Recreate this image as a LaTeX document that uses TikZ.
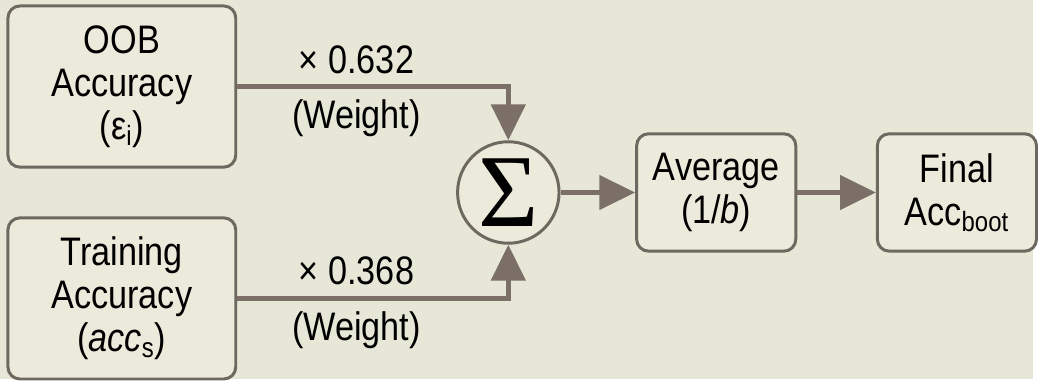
\documentclass[tikz,border=0pt]{standalone}
\usepackage{fontspec}
\setmainfont{Liberation Sans}[FakeStretch=0.86]
\newfontfamily\sigmafont{Liberation Serif}
\usetikzlibrary{arrows.meta, positioning, calc}
\usepackage{xcolor}
\definecolor{paper}{HTML}{E7E7D7}
\definecolor{boxfill}{HTML}{EBEADB}
\definecolor{edgegray}{HTML}{6E6960}
\definecolor{arrowgray}{HTML}{7B6F67}

\begin{document}
\begin{tikzpicture}[
        node distance=24pt and 110pt,
        font=\fontsize{20pt}{21.5pt}\selectfont,
        inbox/.style={rectangle, rounded corners=6pt, draw=edgegray, fill=boxfill, line width=1.5pt,
                   minimum height=81pt, minimum width=114.5pt, align=center},
        outbox/.style={inbox, minimum height=59pt, minimum width=80pt},
        sumnode/.style={circle, draw=edgegray, fill=boxfill, line width=1.5pt,
                   minimum size=51pt, inner sep=0pt},
        arrow/.style={-{Triangle[length=18pt, width=17pt]}, line width=2.5pt, draw=arrowgray}
    ]
    
    \fill[paper] (0,0) rectangle (519pt,-190.5pt);
    
    \node[inbox] (oob) at (61.25pt,-43.5pt) {OOB\\Accuracy\\(ε\textsubscript{i})};
    \node[inbox, below=of oob] (train) {Training\\Accuracy\\(\textit{acc}\textsubscript{s})};
    \coordinate (mid) at ($(oob.east)!0.5!(train.east)$);
    \node[sumnode, right=of mid] (sum) {\sigmafont\fontsize{52pt}{52pt}\selectfont Σ};
    \node[outbox, right=37.5pt of sum] (avg) {Average\\(1/\textit{b})};
    \node[outbox, right=39.5pt of avg] (final) {Final\\Acc\textsubscript{boot}};
    
    \draw[arrow] (oob.east) -| node[pos=0.22, above=2pt] {× 0.632}
        node[pos=0.22, below=2pt] {(Weight)} (sum.north);
    \draw[arrow] (train.east) -| node[pos=0.22, above=2pt] {× 0.368}
        node[pos=0.22, below=2pt] {(Weight)} (sum.south);
    \draw[arrow] (sum) -- (avg);
    \draw[arrow] (avg) -- (final);
    
    \end{tikzpicture}
\end{document}
